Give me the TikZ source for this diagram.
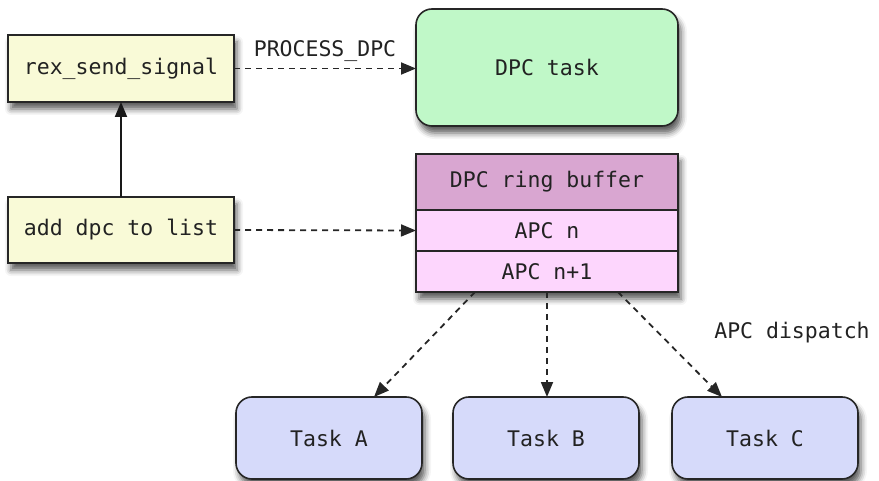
\documentclass[tikz,border=0pt]{standalone}
\usepackage{fontspec}
\setmonofont{DejaVu Sans Mono}
\usetikzlibrary{arrows.meta,calc,shadows.blur}
\definecolor{yel}{RGB}{249,250,215}
\definecolor{grn}{RGB}{192,248,200}
\definecolor{hdr}{RGB}{217,166,209}
\definecolor{cell}{RGB}{253,214,253}
\definecolor{tsk}{RGB}{214,218,250}
\definecolor{ink}{RGB}{34,34,34}
\begin{document}
\begin{tikzpicture}[x=1pt,y=-1pt,
  every node/.style={font=\ttfamily\fontsize{21.5}{26}\selectfont, text=ink},
  sh/.style={blur shadow={shadow xshift=3pt, shadow yshift=-7pt, shadow blur radius=6pt, shadow opacity=65}},
  box/.style={draw=black!85, line width=1.6pt, inner sep=0pt, outer sep=0pt},
  ybox/.style={box, sh, fill=yel, minimum width=226pt, minimum height=67pt},
  tbox/.style={box, sh, fill=tsk, rounded corners=16pt, minimum width=186pt, minimum height=82pt},
  cellbox/.style={box, minimum width=262pt},
  darr/.style={line width=1.8pt, draw=black!85, dash pattern=on 6pt off 5pt, -{Triangle[length=15pt,width=12pt]}},
  sarr/.style={line width=1.8pt, draw=black!90, -{Triangle[length=15pt,width=12pt]}}
]
\useasboundingbox (0,0) rectangle (879,481);

\node[ybox] (rex) at (121,68.5) {rex\_send\_signal};
\node[ybox, minimum height=66pt] (add) at (121,230) {add dpc to list};

\node[box, sh, fill=grn, rounded corners=16pt, minimum width=262pt, minimum height=117pt] (dpct) at (547,67.5) {DPC task};

\node[box, sh, fill=white, minimum width=262pt, minimum height=138pt] (bufbg) at (547,223) {};
\node[cellbox, fill=hdr, minimum height=56pt] (hdr) at (547,182) {DPC ring buffer};
\node[cellbox, fill=cell, minimum height=41pt] (apcn) at (547,230.5) {APC n};
\node[cellbox, fill=cell, minimum height=41pt] (apcn1) at (547,271.5) {APC n+1};

\node[tbox] (ta) at (329,438) {Task A};
\node[tbox] (tb) at (546,438) {Task B};
\node[tbox] (tc) at (765,438) {Task C};

\draw[darr] (rex.east) -- node[above=6pt, inner sep=0pt] (lbl) {PROCESS\_DPC} (dpct.west |- rex.east);
\draw[darr] (add.east) -- (apcn.west);
\draw[sarr] (add.north) -- (rex.south);

\draw[darr] ($(apcn1.south)+(-72,0)$) -- ($(ta.north)+(45,0)$);
\draw[darr] (apcn1.south) -- (tb.north -| apcn1.south);
\draw[darr] ($(apcn1.south)+(71,0)$) -- ($(tc.north)+(-43,0)$);

\node (disp) at (792,333) {APC dispatch};
\end{tikzpicture}
\end{document}
